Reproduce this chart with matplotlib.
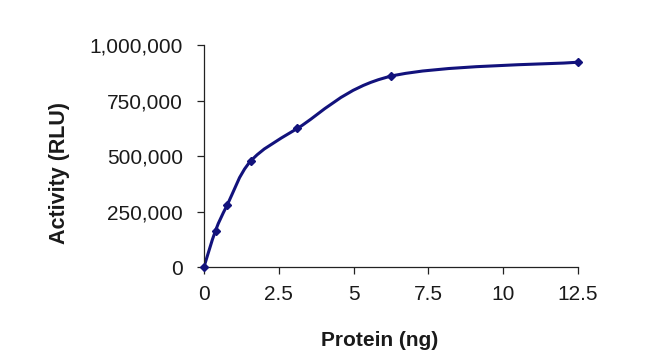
import numpy as np
import matplotlib
matplotlib.use("Agg")
import matplotlib.pyplot as plt
from matplotlib.path import Path
from matplotlib.patches import PathPatch
from matplotlib.ticker import FuncFormatter

protein_ng = [0, 0.39, 0.78, 1.56, 3.125, 6.25, 12.5]
activity_rlu = [0, 165000, 280000, 477000, 625000, 860000, 923000]

x_ticks = [0, 2.5, 5, 7.5, 10, 12.5]
x_tick_labels = ["0", "2.5", "5", "7.5", "10", "12.5"]
y_ticks = [0, 250000, 500000, 750000, 1000000]

LINE_COLOR = "#12127c"

plt.rcParams["font.family"] = ["Liberation Sans", "DejaVu Sans"]


def smooth_path(xs, ys):
    # Excel-style smoothed line: cubic Bezier segments with Catmull-Rom control points
    pts = np.column_stack([xs, ys]).astype(float)
    n = len(pts)
    verts = [pts[0]]
    codes = [Path.MOVETO]
    for i in range(n - 1):
        p0 = pts[i - 1] if i > 0 else pts[i]
        p1 = pts[i]
        p2 = pts[i + 1]
        p3 = pts[i + 2] if i + 2 < n else pts[i + 1]
        c1 = p1 + (p2 - p0) / 6.0
        c2 = p2 - (p3 - p1) / 6.0
        verts += [c1, c2, p2]
        codes += [Path.CURVE4] * 3
    return Path(verts, codes)


fig = plt.figure(figsize=(6.62, 3.64), dpi=100)
ax = fig.add_axes([0.308, 0.266, 0.565, 0.61])

ax.add_patch(PathPatch(smooth_path(protein_ng, activity_rlu), facecolor="none",
                       edgecolor=LINE_COLOR, lw=2.2, capstyle="round", joinstyle="round"))
ax.plot(protein_ng, activity_rlu, linestyle="none", marker="D", markersize=4,
        color=LINE_COLOR, clip_on=False, zorder=3)

ax.set_xlim(0, 12.5)
ax.set_ylim(0, 1000000)
ax.set_xticks(x_ticks)
ax.set_xticklabels(x_tick_labels)
ax.set_yticks(y_ticks)
ax.yaxis.set_major_formatter(FuncFormatter(lambda v, p: f"{int(v):,}"))

for side in ["top", "right"]:
    ax.spines[side].set_visible(False)
for side in ["left", "bottom"]:
    ax.spines[side].set_linewidth(0.9)
    ax.spines[side].set_color("#222222")

ax.tick_params(axis="both", direction="out", length=5, width=0.9, color="#222222",
               labelsize=15, labelcolor="#1a1a1a")
ax.tick_params(axis="x", pad=8)
ax.tick_params(axis="y", pad=10)

fig.text(380 / 662, 1 - 341 / 364, "Protein (ng)", ha="center", va="center",
         fontsize=15, fontweight="bold", color="#1a1a1a")
fig.text(60 / 662, 1 - 173 / 364, "Activity (RLU)", ha="center", va="center",
         rotation=90, fontsize=15.5, fontweight="bold", color="#1a1a1a")

fig.savefig("out.png", dpi=100)
plt.close(fig)
